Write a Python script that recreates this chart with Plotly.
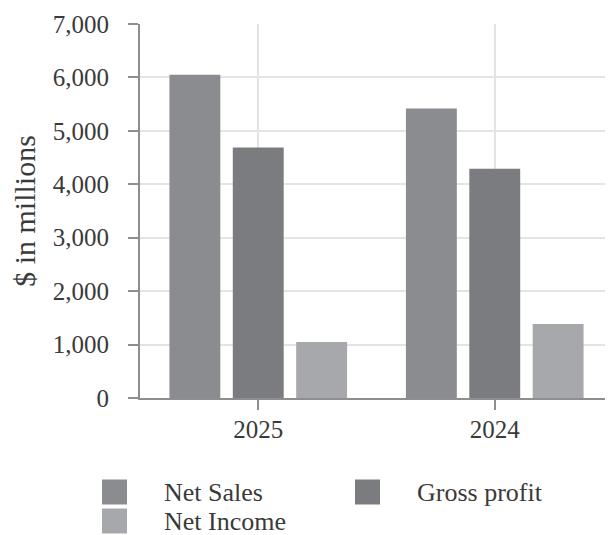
import plotly.graph_objects as go

years = ["2025", "2024"]
net_sales = [6050, 5420]
gross_profit = [4690, 4290]
net_income = [1050, 1385]
series_names = ["Net Sales", "Gross profit", "Net Income"]
series_colors = ["#8b8c90", "#7b7c80", "#a7a8ab"]

OFF = 8  # page body margin
W, H = 613 - OFF, 535 - OFF
L, R, T, B = 140 - OFF, 0, 24 - OFF, 137
PW, PH = W - L - R, H - T - B

def px(x):
    return (x - OFF - L) / PW

def py(y):
    return (H - B - (y - OFF)) / PH

FONT = "Liberation Serif"
TXT = "#3a3a3a"

fig = go.Figure()
for name, vals, col in zip(series_names, [net_sales, gross_profit, net_income], series_colors):
    fig.add_trace(go.Bar(x=years, y=vals, name=name, marker=dict(color=col, line=dict(width=0)),
                         showlegend=False))

fig.update_layout(
    width=W, height=H,
    margin=dict(l=L, r=R, t=T, b=B),
    paper_bgcolor="white", plot_bgcolor="white",
    barmode="group", bargap=0.196, bargroupgap=0.197,
    font=dict(family=FONT, size=24, color=TXT),
    showlegend=False,
)
fig.update_xaxes(
    type="category", range=[-0.5, 1.5],
    showgrid=True, gridcolor="#e4e4e6", gridwidth=1.5,
    showline=True, linecolor="#8e8e92", linewidth=2,
    ticks="outside", ticklen=10, tickcolor="#8e8e92", tickwidth=1.5,
    tickfont=dict(family=FONT, size=25, color=TXT),
    ticklabelstandoff=-2,
)
fig.update_yaxes(
    range=[0, 7000], dtick=1000, tickformat=",",
    showgrid=True, gridcolor="#e4e4e6", gridwidth=1.5,
    showline=True, linecolor="#8e8e92", linewidth=2,
    ticks="outside", ticklen=10, tickcolor="#8e8e92", tickwidth=1.5,
    tickfont=dict(family=FONT, size=25, color=TXT),
    ticklabelstandoff=14,
    zeroline=False,
    title=dict(text="$ in millions", font=dict(family=FONT, size=30, color=TXT), standoff=20),
)

# manual legend (large square swatches)
legend_items = [
    (series_names[0], series_colors[0], 102, 492, 162),
    (series_names[1], series_colors[1], 355, 492, 415),
    (series_names[2], series_colors[2], 102, 521, 162),
]
for name, col, sx, cy, tx in legend_items:
    fig.add_shape(type="rect", xref="paper", yref="paper",
                  x0=px(sx), x1=px(sx + 25), y0=py(cy - 12.5), y1=py(cy + 12.5),
                  fillcolor=col, line=dict(width=0), layer="above")
    fig.add_annotation(xref="paper", yref="paper", x=px(tx), y=py(cy),
                       xanchor="left", yanchor="middle", showarrow=False,
                       text=name, font=dict(family=FONT, size=26, color=TXT))

fig.write_html("out.html")
